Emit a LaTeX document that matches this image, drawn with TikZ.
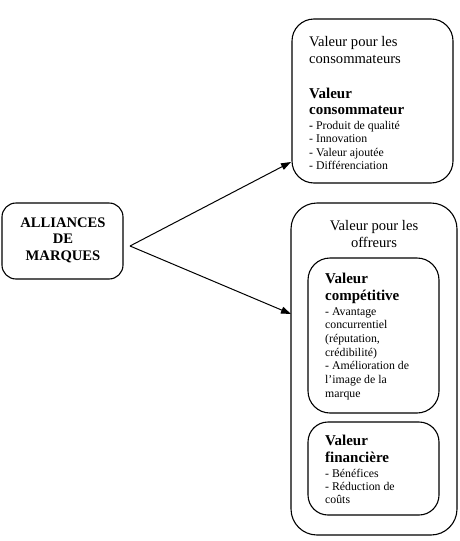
\documentclass[tikz,border=0pt]{standalone}
\usepackage{fontspec}
\setmainfont{Liberation Serif}
\usetikzlibrary{arrows.meta}
\begin{document}
\begin{tikzpicture}[x=1pt,y=-1pt,
  box/.style={draw, line width=1.1pt, inner sep=0pt},
  lbl/.style={anchor=base west, inner sep=0pt},
  ctr/.style={anchor=base, inner sep=0pt},
  reg/.style={font=\fontsize{14.6}{17}\selectfont},
  head/.style={font=\fontsize{15}{17}\selectfont\bfseries},
  item/.style={font=\fontsize{11.8}{13}\selectfont},
  arr/.style={line width=1pt, -{Triangle[length=10pt,width=7pt]}}]
\useasboundingbox (0,0) rectangle (459,541);
% boxes
\draw[box, rounded corners=14pt] (2,203) rectangle (123,279);
\draw[box, rounded corners=22pt] (292,19) rectangle (453,183);
\draw[box, rounded corners=26pt] (291,203) rectangle (457,535);
\draw[box, rounded corners=22pt] (308,258) rectangle (439,413);
\draw[box, rounded corners=20pt] (308,422) rectangle (439,515);
% alliances text
\node[ctr, font=\fontsize{14.6}{17}\selectfont\bfseries] (a1) at (63,227) {ALLIANCES};
\node[ctr, font=\fontsize{14.6}{17}\selectfont\bfseries] (a2) at (63,243) {DE};
\node[ctr, font=\fontsize{14.6}{17}\selectfont\bfseries] (a3) at (63,260) {MARQUES};
% connectors
\coordinate (o) at (130,246);
\coordinate (tA) at (291,162);
\coordinate (tB) at (291,314);
\draw[arr] (o) -- (tA);
\draw[arr] (o) -- (tB);
% top box
\node[lbl, reg] (c1) at (309,46) {Valeur pour les};
\node[lbl, reg] (c2) at (309,63) {consommateurs};
\node[lbl, head] (c3) at (309,98) {Valeur};
\node[lbl, head] (c4) at (309,114) {consommateur};
\node[lbl, item] (c5) at (309,129) {\textbf{-} Produit de qualité};
\node[lbl, item] (c6) at (309,142) {- Innovation};
\node[lbl, item] (c7) at (309,156) {- Valeur ajoutée};
\node[lbl, item] (c8) at (309,169) {- Différenciation};
% offreurs
\node[ctr, reg] (o1) at (374,230) {Valeur pour les};
\node[ctr, reg] (o2) at (374,247) {offreurs};
% competitive
\node[lbl, head] (k1) at (325,283) {Valeur};
\node[lbl, head] (k2) at (325,300) {compétitive};
\node[lbl, item] (k3) at (325,315) {- Avantage};
\node[lbl, item] (k4) at (325,328.7) {concurrentiel};
\node[lbl, item] (k5) at (325,342.4) {(réputation,};
\node[lbl, item] (k6) at (325,356) {crédibilité)};
\node[lbl, item] (k7) at (325,369.8) {- Amélioration de};
\node[lbl, item] (k8) at (325,383.5) {l’image de la};
\node[lbl, item] (k9) at (325,397) {marque};
% financial
\node[lbl, head] (f1) at (325,445) {Valeur};
\node[lbl, head] (f2) at (325,462) {financière};
\node[lbl, item] (f3) at (325,477) {- Bénéfices};
\node[lbl, item] (f4) at (325,490) {- Réduction de};
\node[lbl, item] (f5) at (325,503) {coûts};
\end{tikzpicture}
\end{document}
